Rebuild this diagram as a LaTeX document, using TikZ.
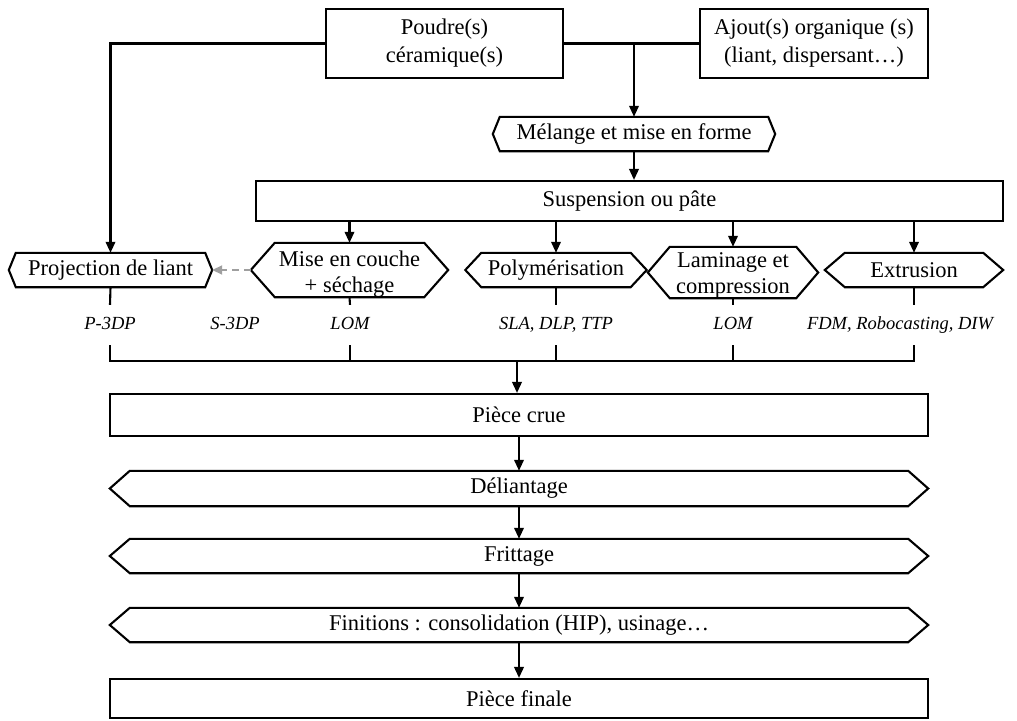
\documentclass[tikz,border=0pt]{standalone}
\usepackage{fontspec}
\setmainfont{Liberation Serif}
\usetikzlibrary{arrows.meta,calc}
\newcommand\lowtext[2]{\raisebox{-#1}[\height][\depth]{\begin{tabular}{@{}c@{}}#2\end{tabular}}}
\newcommand\hexdraw[2]{\draw[ln] (#1.west) -- ([xshift=#2pt]#1.north west) -- ([xshift=-#2pt]#1.north east) -- (#1.east) -- ([xshift=-#2pt]#1.south east) -- ([xshift=#2pt]#1.south west) -- cycle;}
\tikzset{
  ln/.style={line width=2.1pt},
  box/.style={draw, line width=2.1pt, rectangle, inner sep=0pt, align=center, font=\fontsize{22.5}{28}\selectfont},
  hexn/.style={rectangle, inner sep=0pt, align=center, font=\fontsize{22.5}{25.5}\selectfont},
  lab/.style={inner sep=0pt, minimum height=40pt, text height=13pt, text depth=4pt, font=\fontsize{18.5}{22}\selectfont\itshape},
  arr/.style={line width=2.1pt, -{Triangle[length=11pt,width=9.5pt]}},
  dsh/.style={line width=1.8pt, color=gray!75, dash pattern=on 7pt off 5pt, -{Triangle[length=10pt,width=9pt]}}
}
\begin{document}
\begin{tikzpicture}[x=1pt,y=-1pt]
\useasboundingbox (0,0) rectangle (1017,720);
% top boxes
\node[box, minimum width=237pt, minimum height=69pt] (pou) at (444.5,43.5) {Poudre(s)\\céramique(s)};
\node[box, minimum width=228pt, minimum height=69pt] (ajo) at (814,43.5) {Ajout(s) organique (s)\\(liant, dispersant…)};
\coordinate (mix) at (634,43.5);
% mixing
\node[hexn, minimum width=282pt, minimum height=34pt] (mel) at (634,134) {Mélange et mise en forme};
\hexdraw{mel}{7}
\node[box, minimum width=747pt, minimum height=40pt] (sus) at (629.5,201) {Suspension ou pâte};
% process hexagons
\node[hexn, minimum width=203pt, minimum height=34pt] (pro) at (110.5,270) {Projection de liant};
\hexdraw{pro}{7}
\node[hexn, minimum width=197pt, minimum height=54pt] (mis) at (349.5,270) {\lowtext{4.5pt}{Mise en couche\\+ séchage}};
\hexdraw{mis}{24}
\node[hexn, minimum width=181pt, minimum height=34pt] (pol) at (556,270) {Polymérisation};
\hexdraw{pol}{16}
\node[hexn, minimum width=170pt, minimum height=49pt] (lam) at (733,272.5) {\lowtext{3pt}{Laminage et\\compression}};
\hexdraw{lam}{22}
\node[hexn, minimum width=178pt, minimum height=34pt] (ext) at (914,270) {Extrusion};
\hexdraw{ext}{20}
% labels
\node[lab] (lP) at (110,325) {P-3DP};
\node[lab] (lS) at (235,325) {S-3DP};
\node[lab] (lL1) at (350,325) {LOM};
\node[lab] (lSLA) at (556,325) {SLA, DLP, TTP};
\node[lab] (lL2) at (733,325) {LOM};
\node[lab] (lF) at (900,325) {FDM, Robocasting, DIW};
\coordinate (join) at (517,361);
% bottom chain
\node[box, minimum width=818pt, minimum height=42pt] (crue) at (519,415) {Pièce crue};
\node[hexn, minimum width=818pt, minimum height=35pt] (del) at (519,488.5) {Déliantage};
\hexdraw{del}{20}
\node[hexn, minimum width=818pt, minimum height=34pt] (fri) at (519,556) {Frittage};
\hexdraw{fri}{20}
\node[hexn, minimum width=818pt, minimum height=34pt] (fin) at (519,625) {Finitions : consolidation (HIP), usinage…};
\hexdraw{fin}{20}
\node[box, minimum width=818pt, minimum height=39pt] (pfi) at (519,698.5) {Pièce finale};
% connectors top
\draw[ln] (pou.east) -- (ajo.west);
\draw[arr] (pou.west) -| (pro.north);
\draw[arr] (mix) -- (mel.north);
\draw[arr] (mel.south) -- (mel.south |- sus.north);
\draw[arr] (sus.south -| mis.north) -- (mis.north);
\draw[arr] (sus.south -| pol.north) -- (pol.north);
\draw[arr] (sus.south -| lam.north) -- (lam.north);
\draw[arr] (sus.south -| ext.north) -- (ext.north);
\draw[dsh] (mis.west) -- (pro.east);
% ticks and join
\draw[ln] (pro.south) -- (lP.north);
\draw[ln] (lP.south) |- (join);
\draw[ln] (mis.south) -- (lL1.north);
\draw[ln] (lL1.south) |- (join);
\draw[ln] (pol.south) -- (lSLA.north);
\draw[ln] (lSLA.south) |- (join);
\draw[ln] (lam.south) -- (lL2.north);
\draw[ln] (lL2.south) |- (join);
\draw[ln] (ext.south) -- (ext.south |- lF.north);
\draw[ln] (ext.south |- lF.south) |- (join);
% bottom arrows
\draw[arr] (join) -- (join |- crue.north);
\draw[arr] (crue.south) -- (del.north);
\draw[arr] (del.south) -- (fri.north);
\draw[arr] (fri.south) -- (fin.north);
\draw[arr] (fin.south) -- (pfi.north);
\end{tikzpicture}
\end{document}
